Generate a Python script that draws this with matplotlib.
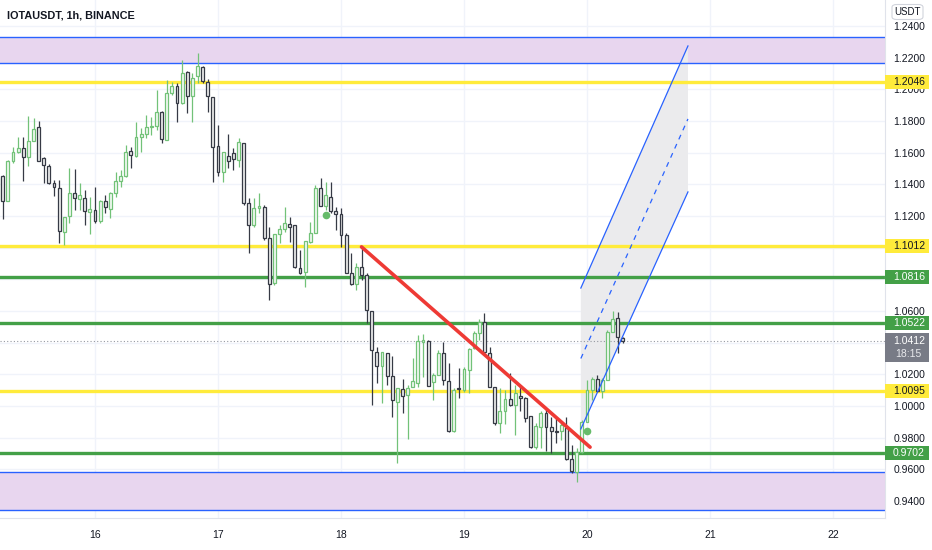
import numpy as np
import matplotlib
matplotlib.use('Agg')
import matplotlib.pyplot as plt
from matplotlib.patches import Rectangle, Polygon, FancyBboxPatch
from matplotlib import transforms

plt.rcParams['font.family'] = ['Liberation Sans', 'DejaVu Sans']

# IOTAUSDT 1h candles, hours counted from the 16th 00:00
first_hour = -19
opens = [1.1301, 1.1452, 1.1295, 1.1547, 1.1604, 1.1629, 1.1573, 1.1674, 1.1762, 1.1566,
         1.1516, 1.1408, 1.1377, 1.1099, 1.1200, 1.1345, 1.1307, 1.1314, 1.1225, 1.1238,
         1.1168, 1.1295, 1.1244, 1.1345, 1.1421, 1.1452, 1.1610, 1.1579, 1.1699, 1.1718,
         1.1762, 1.1768, 1.1857, 1.1680, 1.1977, 1.2021, 1.1914, 1.2109, 1.1958, 1.2084,
         1.2141, 1.2046, 1.1952, 1.1642, 1.1478, 1.1579, 1.1598, 1.1554, 1.1661, 1.1282,
         1.1143, 1.1251, 1.1257, 1.1061, 1.0777, 1.1086, 1.1118, 1.1150, 1.1143, 1.0872,
         1.0846, 1.1036, 1.1093, 1.1377, 1.1263, 1.1320, 1.1232, 1.1213, 1.1080, 1.0840,
         1.0771, 1.0878, 1.0827, 1.0600, 1.0341, 1.0253, 1.0335, 1.0189, 1.0025, 1.0107,
         1.0069, 1.0120, 1.0145, 1.0405, 1.0411, 1.0152, 1.0196, 1.0335, 1.0158, 0.9842,
         1.0114, 1.0101, 1.0227, 1.0366, 1.0461, 1.0531, 1.0335, 1.0120, 0.9893, 0.9968,
         1.0044, 1.0006, 1.0063, 1.0050, 0.9937, 0.9741, 0.9867, 0.9956, 0.9867, 0.9842,
         0.9842, 0.9861, 0.9665, 0.9583, 0.9709, 0.9899, 1.0101, 1.0170, 1.0095, 1.0164,
         1.0468, 1.0556, 1.0430]
highs = [1.1459, 1.1459, 1.1554, 1.1636, 1.1699, 1.1699, 1.1832, 1.1819, 1.1800, 1.1573,
         1.1528, 1.1427, 1.1427, 1.1194, 1.1503, 1.1497, 1.1408, 1.1364, 1.1320, 1.1383,
         1.1301, 1.1333, 1.1352, 1.1478, 1.1490, 1.1648, 1.1636, 1.1794, 1.1756, 1.1838,
         1.1825, 1.1996, 1.1863, 1.2059, 1.2046, 1.2040, 1.2185, 1.2116, 1.2103, 1.2229,
         1.2147, 1.2065, 1.1952, 1.1775, 1.1604, 1.1718, 1.1629, 1.1693, 1.1661, 1.1314,
         1.1314, 1.1345, 1.1269, 1.1131, 1.1086, 1.1143, 1.1257, 1.1194, 1.1143, 1.0985,
         1.1042, 1.1162, 1.1396, 1.1440, 1.1415, 1.1415, 1.1257, 1.1251, 1.1093, 1.0966,
         1.0903, 1.1004, 1.0840, 1.0600, 1.0373, 1.0341, 1.0335, 1.0316, 1.0114, 1.0170,
         1.0133, 1.0303, 1.0449, 1.0455, 1.0417, 1.0208, 1.0354, 1.0405, 1.0272, 1.0114,
         1.0240, 1.0246, 1.0366, 1.0474, 1.0550, 1.0587, 1.0373, 1.0120, 1.0114, 1.0101,
         1.0208, 1.0133, 1.0133, 1.0057, 0.9937, 0.9893, 0.9968, 0.9981, 0.9931, 0.9924,
         0.9893, 0.9931, 0.9754, 0.9735, 0.9912, 1.0164, 1.0183, 1.0196, 1.0177, 1.0480,
         1.0600, 1.0594, 1.0436]
lows = [1.1269, 1.1181, 1.1295, 1.1535, 1.1598, 1.1421, 1.1516, 1.1674, 1.1547, 1.1408,
        1.1402, 1.1326, 1.1029, 1.1017, 1.1156, 1.1238, 1.1238, 1.1143, 1.1086, 1.1156,
        1.1156, 1.1219, 1.1187, 1.1320, 1.1383, 1.1446, 1.1503, 1.1573, 1.1604, 1.1693,
        1.1712, 1.1743, 1.1661, 1.1680, 1.1964, 1.1794, 1.1907, 1.1851, 1.1794, 1.2040,
        1.2040, 1.1857, 1.1415, 1.1452, 1.1415, 1.1503, 1.1490, 1.1509, 1.1269, 1.0966,
        1.1131, 1.1219, 1.1048, 1.0669, 1.0764, 1.1029, 1.1099, 1.1036, 1.0872, 1.0834,
        1.0752, 1.1029, 1.1093, 1.1263, 1.1238, 1.1219, 1.1112, 1.1004, 1.0840, 1.0764,
        1.0733, 1.0796, 1.0524, 1.0006, 1.0145, 1.0019, 1.0133, 0.9931, 0.9640, 0.9956,
        0.9792, 1.0120, 1.0120, 1.0183, 1.0126, 1.0038, 1.0196, 1.0133, 0.9836, 0.9836,
        1.0050, 1.0088, 1.0082, 1.0360, 1.0417, 1.0335, 1.0120, 0.9880, 0.9829, 0.9886,
        1.0000, 0.9817, 0.9968, 0.9899, 0.9735, 0.9728, 0.9735, 0.9716, 0.9703, 0.9766,
        0.9785, 0.9659, 0.9577, 0.9520, 0.9703, 0.9899, 1.0038, 1.0088, 1.0050, 1.0164,
        1.0468, 1.0335, 1.0398]
closes = [1.1440, 1.1295, 1.1547, 1.1604, 1.1629, 1.1573, 1.1674, 1.1749, 1.1547, 1.1522,
          1.1408, 1.1383, 1.1105, 1.1194, 1.1345, 1.1314, 1.1333, 1.1232, 1.1244, 1.1168,
          1.1295, 1.1257, 1.1345, 1.1421, 1.1452, 1.1604, 1.1585, 1.1699, 1.1718, 1.1762,
          1.1768, 1.1857, 1.1686, 1.1977, 1.2021, 1.1914, 1.2103, 1.1958, 1.2072, 1.2147,
          1.2053, 1.1958, 1.1636, 1.1478, 1.1604, 1.1547, 1.1560, 1.1667, 1.1282, 1.1143,
          1.1251, 1.1263, 1.1061, 1.0771, 1.1086, 1.1118, 1.1156, 1.1131, 1.0878, 1.0840,
          1.1042, 1.1093, 1.1377, 1.1263, 1.1333, 1.1232, 1.1213, 1.1080, 1.0840, 1.0771,
          1.0878, 1.0827, 1.0606, 1.0354, 1.0253, 1.0341, 1.0189, 1.0038, 1.0114, 1.0063,
          1.0114, 1.0158, 1.0411, 1.0417, 1.0126, 1.0196, 1.0335, 1.0164, 0.9842, 1.0101,
          1.0107, 1.0234, 1.0360, 1.0461, 1.0531, 1.0341, 1.0120, 0.9893, 0.9968, 1.0044,
          1.0006, 1.0082, 1.0050, 0.9924, 0.9741, 0.9874, 0.9956, 0.9867, 0.9842, 0.9836,
          0.9880, 0.9665, 0.9589, 0.9709, 0.9899, 1.0101, 1.0170, 1.0095, 1.0164, 1.0468,
          1.0550, 1.0436, 1.0412]

day_labels = ['16', '17', '18', '19', '20', '21', '22']
price_ticks = [0.94, 0.96, 0.98, 1.00, 1.02, 1.04, 1.06, 1.08, 1.10, 1.12,
               1.14, 1.16, 1.18, 1.20, 1.22, 1.24]
# the scale hides these under the level labels
hidden_ticks = [1.04, 1.08, 1.10]

# drawn levels
yellow_levels = [1.2046, 1.1012, 1.0095]
green_levels = [1.0816, 1.0522, 0.9702]
zones = [(1.2166, 1.2331), (0.9343, 0.9583)]
last_price = 1.0412
countdown = '18:15'
trend_h = [52, 96.6]
trend_p = [1.1005, 0.9740]
chan_h = [94.8, 115.7]
chan_upper = [1.0745, 1.2274]
chan_lower = [0.9855, 1.1352]
signal_h = [45, 96]
signal_p = [1.1206, 0.9842]

hours = first_hour + np.arange(len(opens))

W, H = 932, 550
fig = plt.figure(figsize=(W / 100, H / 100), dpi=100)
ax = fig.add_axes([0, 32 / H, 885 / W, 518 / H])
ax.set_xlim(-18.54, 154.15)
ax.set_ylim(0.92926, 1.25642)

TXT = '#131722'
for s in ['top', 'left']:
    ax.spines[s].set_visible(False)
for s in ['right', 'bottom']:
    ax.spines[s].set_color('#e0e3eb')
ax.yaxis.tick_right()
ax.set_yticks(price_ticks)
ax.set_yticklabels(['' if any(abs(p - t) < 1e-9 for t in hidden_ticks) else '%.4f' % p
                    for p in price_ticks])
ax.set_xticks(np.arange(len(day_labels)) * 24)
ax.set_xticklabels(day_labels)
ax.tick_params(axis='y', length=0, pad=6, labelsize=7.5, labelcolor=TXT)
ax.tick_params(axis='x', length=0, pad=9, labelsize=7.5, labelcolor=TXT)
ax.grid(True, color='#f0f3fa', lw=1)
ax.set_axisbelow(True)

# purple zones
for lo, hi in zones:
    ax.axhspan(lo, hi, color='#e8d6ef', zorder=1, lw=0)
    ax.axhline(lo, color='#2962ff', lw=1, zorder=2)
    ax.axhline(hi, color='#2962ff', lw=1, zorder=2)

# channel fill
up_p = np.array(chan_upper)
lo_p = np.array(chan_lower)
ax.add_patch(Polygon([(chan_h[0], up_p[0]), (chan_h[1], up_p[1]),
                      (chan_h[1], lo_p[1]), (chan_h[0], lo_p[0])],
                     closed=True, fc='#ebebed', ec='none', zorder=1.2))

for lv in yellow_levels:
    ax.axhline(lv, color='#ffeb3b', lw=2.4, zorder=2.2)
for lv in green_levels:
    ax.axhline(lv, color='#43a047', lw=2.4, zorder=2.2)
ax.axhline(last_price, color='#9598a1', lw=0.8, ls=(0, (1, 2)), zorder=2.1)

# candles
up_c, dn_c = '#72c278', '#363a45'
bw = 0.56
for h, o, hi, lo, c in zip(hours, opens, highs, lows, closes):
    col = up_c if c >= o else dn_c
    fc = '#f4faf4' if c >= o else '#eeeeee'
    ax.plot([h, h], [lo, hi], color=col, lw=0.9, zorder=3, solid_capstyle='butt')
    b0, b1 = min(o, c), max(o, c)
    ax.add_patch(Rectangle((h - bw / 2, b0), bw, max(b1 - b0, 0.0004),
                           fc=fc, ec=col, lw=0.9, zorder=3.5))

# trend line and channel lines
ax.plot(trend_h, trend_p, color='#ee3a35', lw=2.6, zorder=4, solid_capstyle='round')
ax.plot(chan_h, chan_upper, color='#2962ff', lw=0.9, zorder=4)
ax.plot(chan_h, chan_lower, color='#2962ff', lw=0.9, zorder=4)
ax.plot(chan_h, (up_p + lo_p) / 2, color='#2962ff', lw=0.9, ls=(0, (4, 4)), zorder=4)
ax.plot(signal_h, signal_p, 'o', color='#66bb6a', ms=5.5, zorder=5, mec='none')

# price labels on the scale
bt = transforms.blended_transform_factory(ax.transAxes, ax.transData)
ppx = (ax.get_ylim()[1] - ax.get_ylim()[0]) / 518.0
box_w = 44 / 885.0
for lv in yellow_levels + green_levels:
    yel = lv in yellow_levels
    fcol = '#ffeb3b' if yel else '#43a047'
    ax.add_patch(Rectangle((1.0, lv - 7 * ppx), box_w, 14 * ppx, transform=bt,
                           fc=fcol, ec='none', clip_on=False, zorder=6))
    ax.text(1 + 8 / 885, lv, '%.4f' % lv, transform=bt, va='center', ha='left',
            fontsize=7.5, color=TXT if yel else 'white', zorder=7, clip_on=False)
ax.add_patch(Rectangle((1.0, last_price - 21 * ppx), box_w, 29 * ppx, transform=bt,
                       fc='#787b86', ec='none', clip_on=False, zorder=6))
ax.text(1 + 8 / 885, last_price, '%.4f' % last_price, transform=bt, va='center',
        ha='left', fontsize=7.5, color='white', zorder=7, clip_on=False)
ax.text(1 + 10 / 885, last_price - 13 * ppx, countdown, transform=bt, va='center',
        ha='left', fontsize=7.5, color='#e8e9ec', zorder=7, clip_on=False)

# currency tag and title
fig.patches.append(FancyBboxPatch((892 / W, 1 - 19.5 / H), 31 / W, 15 / H,
                                  boxstyle='round,pad=0,rounding_size=0.005',
                                  transform=fig.transFigure, fc='white',
                                  ec='#d1d4dc', lw=0.8))
fig.text(907.5 / W, 1 - 12 / H, 'USDT', ha='center', va='center',
         fontsize=7, color=TXT)
fig.text(7 / W, 1 - 15 / H, 'IOTAUSDT, 1h, BINANCE', ha='left', va='center',
         fontsize=7.8, fontweight='bold', color=TXT)

fig.savefig('out.png', dpi=100, facecolor='white')
